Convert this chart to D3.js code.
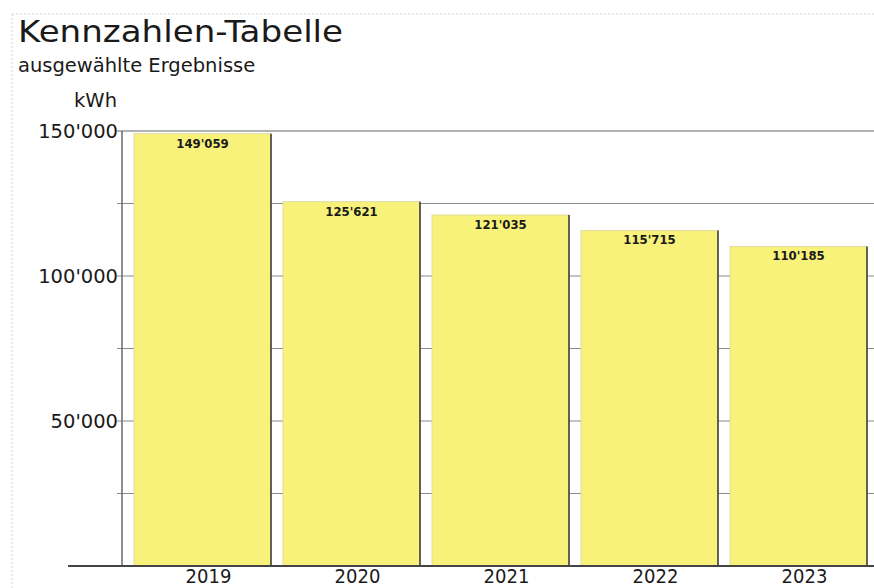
<!DOCTYPE html>
<html><head><meta charset="utf-8">
<script src="https://cdn.jsdelivr.net/npm/d3@7"></script>
<style>
html,body{margin:0;padding:0;background:#fff;}
svg{display:block;}
</style></head>
<body>
<svg id="chart" width="874" height="588"></svg>
<script>
const years = ["2019","2020","2021","2022","2023"];
const values = [149059, 125621, 121035, 115715, 110185];
const yTicks = [50000, 100000, 150000];
const gridValues = [25000, 50000, 75000, 100000, 125000, 150000];
const title = "Kennzahlen-Tabelle";
const subtitle = "ausgewählte Ergebnisse";
const unit = "kWh";

const svg = d3.select("#chart");
const fmt = d3.formatLocale({decimal:".", thousands:"'", grouping:[3], currency:["",""]}).format(",");

const x = d3.scaleBand().domain(years).range([122, 867]).padding(0);
const y = d3.scaleLinear().domain([0, 150000]).range([566, 131]);
const inset = 12;

// faint frame
svg.append("line").attr("x1",12).attr("x2",874).attr("y1",14).attr("y2",14)
  .attr("stroke","#d4d4d4").attr("stroke-dasharray","2,2");
svg.append("line").attr("x1",12).attr("x2",12).attr("y1",14).attr("y2",588)
  .attr("stroke","#d4d4d4").attr("stroke-dasharray","2,2");

// titles
svg.append("text").attr("x",18).attr("y",42)
  .attr("transform","translate(18,0) scale(1.1,1) translate(-18,0)")
  .attr("font-family","DejaVu Sans").attr("font-size",31).attr("fill","#1a1a1a").text(title);
svg.append("text").attr("x",18).attr("y",72)
  .attr("font-family","DejaVu Sans").attr("font-size",19.5).attr("fill","#1a1a1a").text(subtitle);
svg.append("text").attr("x",117).attr("y",107).attr("text-anchor","end")
  .attr("font-family","DejaVu Sans").attr("font-size",19.5).attr("fill","#1a1a1a").text(unit);

// gridlines
svg.append("g").selectAll("line").data(gridValues).join("line")
  .attr("x1",117).attr("x2",874)
  .attr("y1",d=>y(d)).attr("y2",d=>y(d))
  .attr("stroke",d=>d===150000?"#666":"#8a8a8a").attr("stroke-width",1.2);

// y tick labels via axis
const yAxis = d3.axisLeft(y).tickValues(yTicks).tickSize(0).tickPadding(0).tickFormat(fmt);
const gy = svg.append("g").attr("transform","translate(118,0)").call(yAxis);
gy.select(".domain").remove();
gy.selectAll("text").attr("font-family","DejaVu Sans").attr("font-size",19.5).attr("fill","#1a1a1a");

// left axis line
svg.append("line").attr("x1",122).attr("x2",122).attr("y1",y(150000)).attr("y2",y(0))
  .attr("stroke","#6a6a6a").attr("stroke-width",1.5);

// bars
const bars = svg.append("g").selectAll("g").data(years.map((yr,i)=>({yr,v:values[i]}))).join("g");
bars.append("rect")
  .attr("x",d=>x(d.yr)+inset).attr("width",x.bandwidth()-inset)
  .attr("y",d=>y(d.v)).attr("height",d=>y(0)-y(d.v))
  .attr("fill","#f8f27a").attr("stroke","#d9d5a0").attr("stroke-width",0.8);
bars.append("line")
  .attr("x1",d=>x(d.yr)+x.bandwidth()).attr("x2",d=>x(d.yr)+x.bandwidth())
  .attr("y1",d=>y(d.v)).attr("y2",y(0))
  .attr("stroke","#333").attr("stroke-width",1.5);
bars.append("text")
  .attr("x",d=>x(d.yr)+inset+(x.bandwidth()-inset)/2).attr("y",d=>y(d.v)+14)
  .attr("text-anchor","middle")
  .attr("font-family","DejaVu Sans").attr("font-stretch","condensed").attr("font-weight","bold")
  .attr("font-size",13).attr("fill","#1a1a1a").text(d=>fmt(d.v));

// baseline
svg.append("line").attr("x1",68).attr("x2",874).attr("y1",y(0)).attr("y2",y(0))
  .attr("stroke","#444").attr("stroke-width",2);

// x labels via axis
const xAxis = d3.axisBottom(d3.scaleBand().domain(years).range([122+inset,867+inset])).tickSize(0).tickPadding(0);
const gx = svg.append("g").attr("transform",`translate(0,${y(0)})`).call(xAxis);
gx.select(".domain").remove();
gx.selectAll("text").attr("dy",null).attr("y",17)
  .attr("font-family","DejaVu Sans").attr("font-stretch","condensed")
  .attr("font-size",20).attr("fill","#1a1a1a");
</script>
</body></html>
